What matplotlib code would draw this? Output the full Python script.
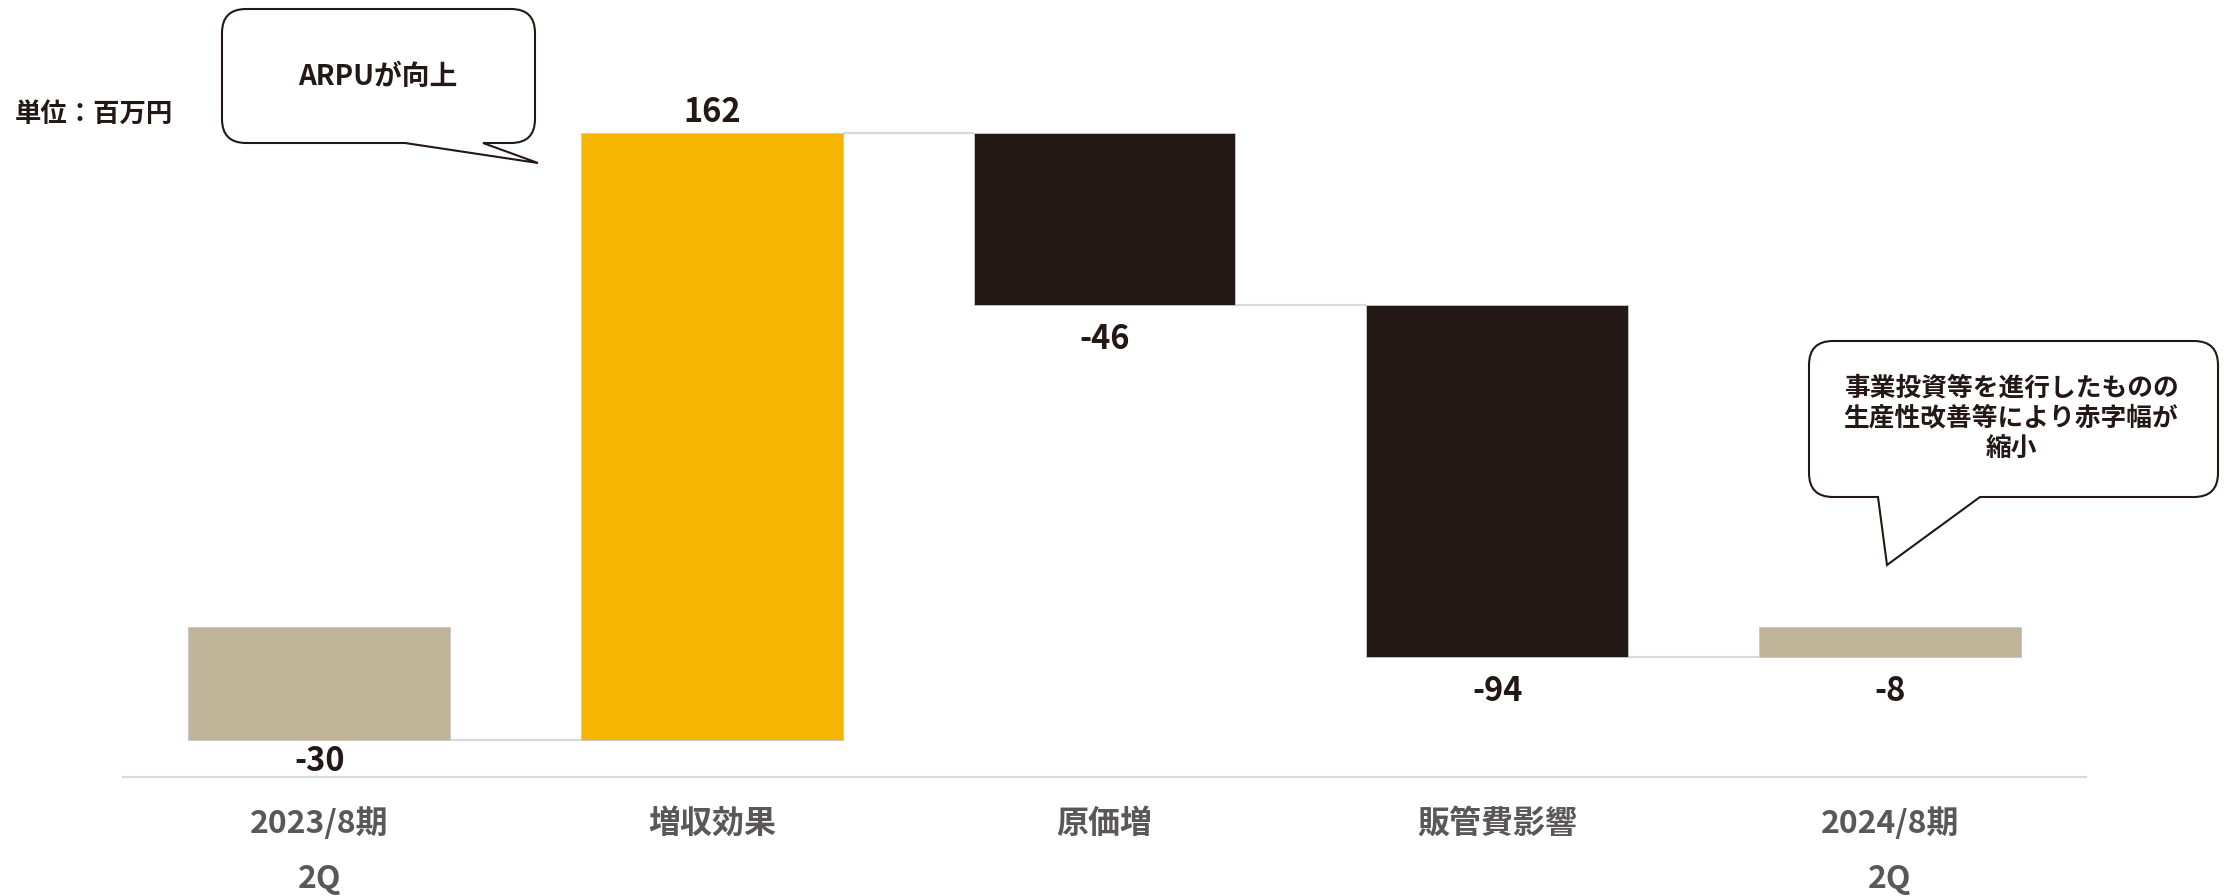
import matplotlib
matplotlib.use("Agg")
import matplotlib.pyplot as plt
from matplotlib.path import Path
from matplotlib.patches import PathPatch

plt.rcParams['font.family'] = ['Noto Sans CJK JP', 'DejaVu Sans']

# Data (million yen)
categories = ["2023/8期\n2Q", "増収効果", "原価増", "販管費影響", "2024/8期\n2Q"]
values = [-30, 162, -46, -94, -8]
is_total = [True, False, False, False, True]
labels = ["-30", "162", "-46", "-94", "-8"]
bar_colors = ["#BFB497", "#F5B500", "#231815", "#231815", "#BFB497"]

note_left = "ARPUが向上"
note_right = "事業投資等を進行したものの\n生産性改善等により赤字幅が\n縮小"
unit_text = "単位：百万円"

TEXT_DARK = "#231815"
TEXT_GRAY = "#595757"
LINE_GRAY = "#D9D9D9"

fig = plt.figure(figsize=(22.24, 8.96), dpi=100)
ax = fig.add_axes([123 / 2224, 1 - 777 / 896, (2086 - 123) / 2224, 777 / 896])

# Waterfall geometry
bottoms, heights, levels = [], [], []
running = 0
for v, tot in zip(values, is_total):
    if tot:
        bottoms.append(0)
        heights.append(v)
        running = v
    else:
        bottoms.append(running)
        heights.append(v)
        running += v
    levels.append(running)

width = 0.667
xs = list(range(len(values)))
ax.bar(xs, heights, bottom=bottoms, width=width, color=bar_colors,
       edgecolor="#C8C8C8", linewidth=0.6, zorder=3)

# connectors
for i in range(len(values) - 1):
    ax.plot([xs[i] + width / 2, xs[i + 1] - width / 2], [levels[i], levels[i]],
            color=LINE_GRAY, linewidth=1.6, zorder=2, solid_capstyle="butt")

# value labels
for i, (b, h, lab) in enumerate(zip(bottoms, heights, labels)):
    top = max(b, b + h)
    low = min(b, b + h)
    if h > 0:
        ax.annotate(lab, (xs[i], top), xytext=(0, 15), textcoords="offset points",
                    ha="center", va="center", fontsize=23.5, fontweight="bold",
                    color=TEXT_DARK)
    else:
        off = -16 if i == 0 else -24.5
        ax.annotate(lab, (xs[i], low), xytext=(0, off), textcoords="offset points",
                    ha="center", va="center", fontsize=23.5, fontweight="bold",
                    color=TEXT_DARK)

ax.set_xlim(-0.5, 4.5)
ax.set_ylim(-40, 167.5)
ax.set_xticks(xs)
ax.set_xticklabels(categories, fontsize=23, fontweight="bold", color=TEXT_GRAY,
                   linespacing=1.9, va="top")
ax.tick_params(axis="x", length=0, pad=22)
ax.set_yticks([])
for s in ["top", "right", "left"]:
    ax.spines[s].set_visible(False)
ax.spines["bottom"].set_color(LINE_GRAY)
ax.spines["bottom"].set_linewidth(1.6)

# overlay in pixel coordinates for notes
ov = fig.add_axes([0, 0, 1, 1], zorder=10)
ov.set_xlim(0, 2224)
ov.set_ylim(896, 0)
ov.axis("off")
ov.patch.set_alpha(0)


def bubble(x0, y0, x1, y1, r, t0, t1, tip):
    verts = [
        (x0 + r, y0), (x1 - r, y0),
        (x1, y0), (x1, y0 + r),
        (x1, y1 - r),
        (x1, y1), (x1 - r, y1),
        (t1, y1), tip, (t0, y1),
        (x0 + r, y1),
        (x0, y1), (x0, y1 - r),
        (x0, y0 + r),
        (x0, y0), (x0 + r, y0),
        (x0 + r, y0),
    ]
    codes = [
        Path.MOVETO, Path.LINETO,
        Path.CURVE3, Path.CURVE3,
        Path.LINETO,
        Path.CURVE3, Path.CURVE3,
        Path.LINETO, Path.LINETO, Path.LINETO,
        Path.LINETO,
        Path.CURVE3, Path.CURVE3,
        Path.LINETO,
        Path.CURVE3, Path.CURVE3,
        Path.CLOSEPOLY,
    ]
    ov.add_patch(PathPatch(Path(verts, codes), facecolor="white",
                           edgecolor=TEXT_DARK, linewidth=1.5, joinstyle="miter"))


bubble(222, 9, 535, 143, 24, 405, 483, (538, 163))
ov.text(378, 77, note_left, ha="center", va="center", fontsize=20,
        fontweight="bold", color=TEXT_DARK)

bubble(1809, 341, 2218, 497, 24, 1878, 1980, (1887, 565))
ov.text(2011, 418, note_right, ha="center", va="center", fontsize=18.5,
        fontweight="bold", color=TEXT_DARK, linespacing=1.15, multialignment="center")

ov.text(15, 114, unit_text, ha="left", va="center", fontsize=19,
        fontweight="bold", color=TEXT_DARK)

fig.savefig("out.png", dpi=100, facecolor="white")
